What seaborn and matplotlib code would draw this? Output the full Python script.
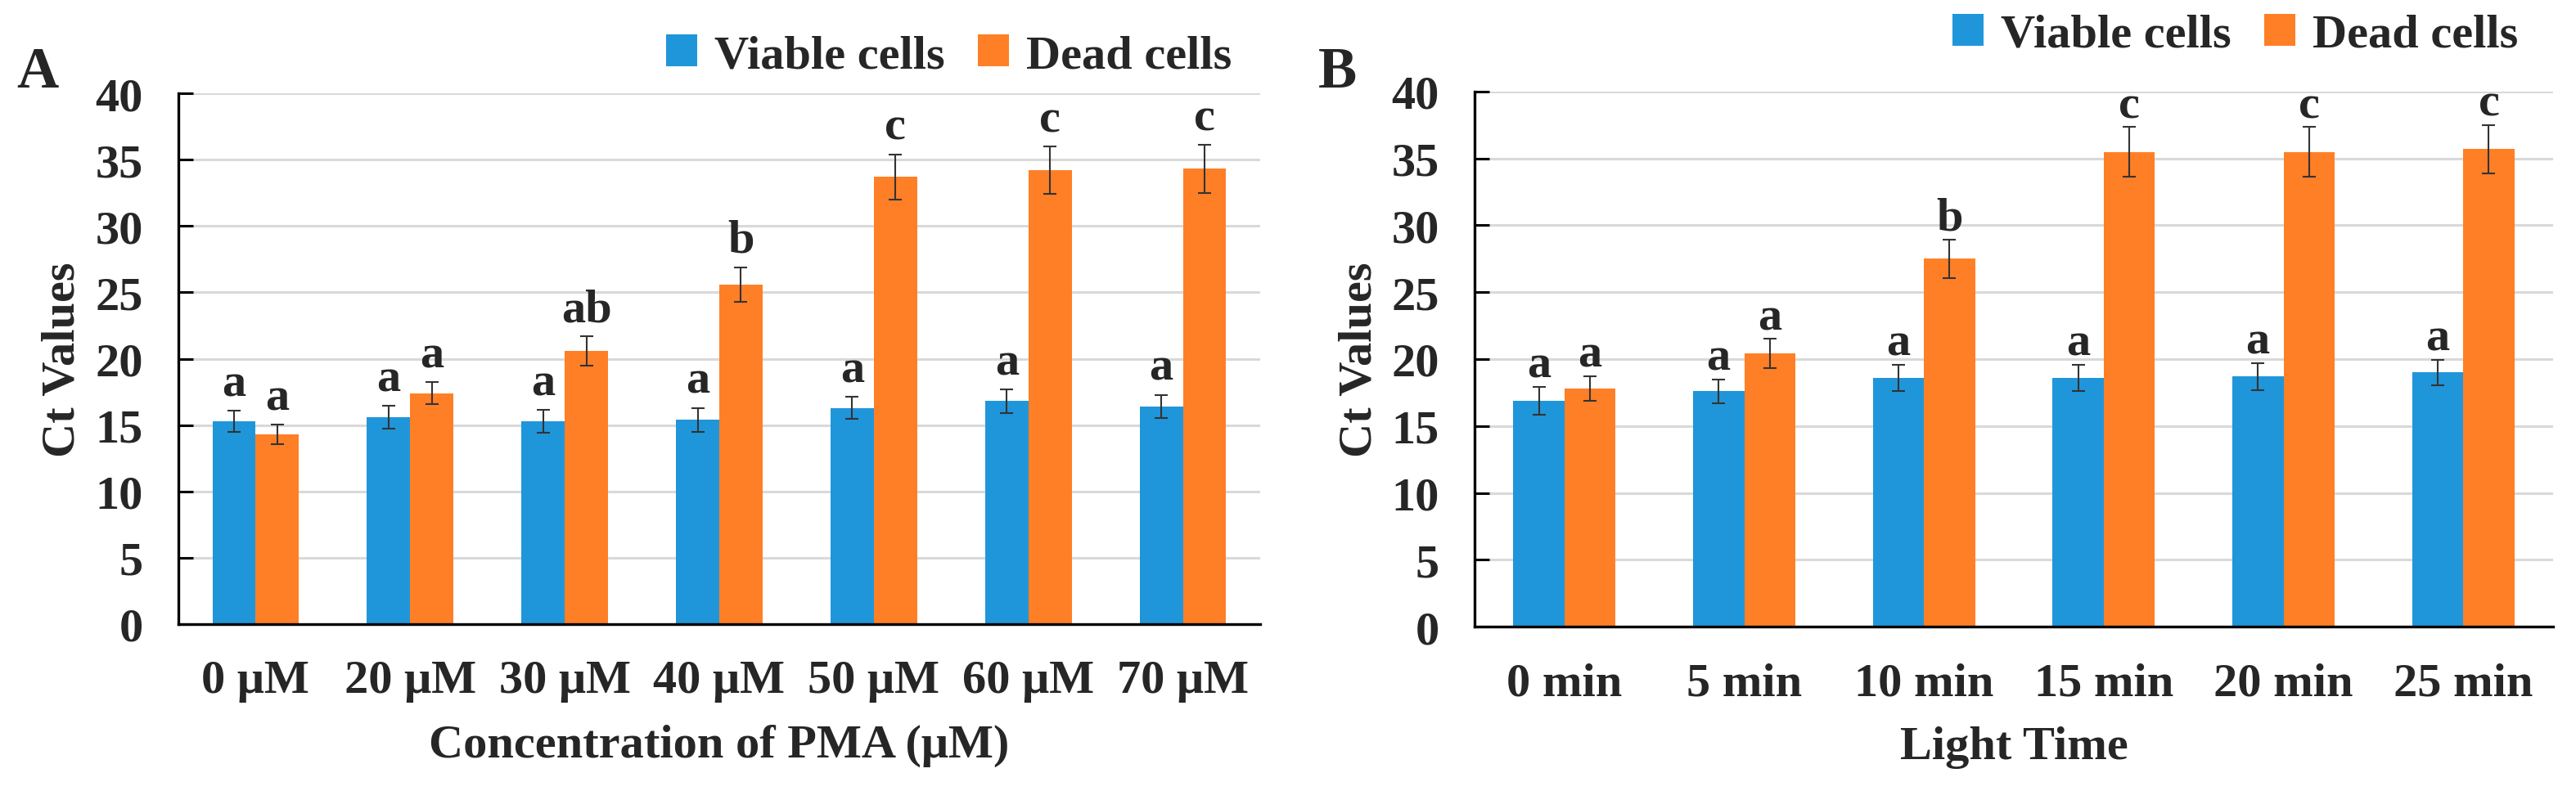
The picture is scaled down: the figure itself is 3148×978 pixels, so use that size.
import numpy as np
import pandas as pd
import matplotlib
matplotlib.use('Agg')
import matplotlib.pyplot as plt
from matplotlib.patches import Patch
from matplotlib.ticker import FixedLocator
import seaborn as sns

# Panel A - PMA concentration
pma_labels = ['0 μM', '20 μM', '30 μM', '40 μM', '50 μM', '60 μM', '70 μM']
pma_viable = [15.3, 15.6, 15.3, 15.4, 16.3, 16.8, 16.4]
pma_viable_err = [0.8, 0.85, 0.85, 0.9, 0.85, 0.9, 0.88]
pma_dead = [14.3, 17.4, 20.6, 25.6, 33.7, 34.2, 34.3]
pma_dead_err = [0.75, 0.85, 1.1, 1.3, 1.7, 1.8, 1.8]
pma_viable_sig = ['a', 'a', 'a', 'a', 'a', 'a', 'a']
pma_dead_sig = ['a', 'a', 'ab', 'b', 'c', 'c', 'c']

# Panel B - light time
time_labels = ['0 min', '5 min', '10 min', '15 min', '20 min', '25 min']
time_viable = [16.9, 17.6, 18.6, 18.6, 18.7, 19.0]
time_viable_err = [1.05, 0.9, 1.0, 1.0, 1.0, 0.95]
time_dead = [17.8, 20.4, 27.5, 35.5, 35.5, 35.7]
time_dead_err = [0.92, 1.1, 1.45, 1.85, 1.85, 1.8]
time_viable_sig = ['a', 'a', 'a', 'a', 'a', 'a']
time_dead_sig = ['a', 'a', 'b', 'c', 'c', 'c']

series_names = ['Viable cells', 'Dead cells']
blue = '#2096DA'
orange = '#FF7F27'

sns.set_style('white')
plt.rcParams['font.family'] = ['Liberation Serif', 'DejaVu Serif']
plt.rcParams['font.weight'] = 'bold'
FS = 42


def draw_panel(ax, labels, viable, viable_err, dead, dead_err, viable_sig, dead_sig,
               width, gap, xlabel):
    n = len(labels)
    df = pd.DataFrame({
        'cond': labels * 2,
        'ct': viable + dead,
        'cells': [series_names[0]] * n + [series_names[1]] * n,
    })
    sns.barplot(data=df, x='cond', y='ct', hue='cells', hue_order=series_names,
                palette=[blue, orange], width=width, errorbar=None, legend=False,
                saturation=1, linewidth=0, ax=ax, zorder=2)
    errs = [viable_err, dead_err]
    sigs = [viable_sig, dead_sig]
    for cont, err, sig in zip(ax.containers, errs, sigs):
        for bar, e, s in zip(cont.patches, err, sig):
            x = bar.get_x() + bar.get_width() / 2
            h = bar.get_height()
            ax.errorbar(x, h, yerr=e, color='#333333', elinewidth=1.5,
                        capsize=5.5, capthick=1.5, zorder=3)
            ax.text(x, h + e + gap, s, ha='center', va='baseline',
                    fontsize=FS, fontweight='bold', zorder=4)

    ax.set_ylim(0, 40)
    ax.set_xlim(-0.5, n - 0.5)
    ax.set_yticks(np.arange(0, 41, 5))
    ax.yaxis.grid(True, color='#d9d9d9', linewidth=2.2, zorder=0)
    ax.xaxis.grid(False)
    ax.set_axisbelow(True)
    ax.xaxis.set_minor_locator(FixedLocator(np.arange(0.5, n, 1.0)))
    ax.tick_params(axis='x', which='major', length=0, pad=31, labelsize=FS)
    ax.tick_params(axis='x', which='minor', direction='in', length=16, width=2.2,
                   color='black')
    ax.tick_params(axis='y', which='major', direction='in', length=13, width=2.2,
                   pad=31, labelsize=FS, left=True, color='black')
    for lab in ax.get_xticklabels() + ax.get_yticklabels():
        lab.set_fontweight('bold')
    for side in ['top', 'right']:
        ax.spines[side].set_visible(False)
    for side in ['left', 'bottom']:
        ax.spines[side].set_color('black')
        ax.spines[side].set_linewidth(2.4)
        ax.spines[side].set_zorder(5)
    ax.set_xlabel(xlabel, fontsize=FS, fontweight='bold', labelpad=19)
    ax.set_ylabel('Ct Values', fontsize=FS, fontweight='bold')
    ax.yaxis.set_label_coords(-0.087, 0.5)


W, H = 3148, 979
fig = plt.figure(figsize=(W / 100, H / 100), dpi=100)
axA = fig.add_axes([218 / W, 1 - 764 / H, (1540 - 218) / W, (764 - 115) / H])
axB = fig.add_axes([1802 / W, 1 - 767 / H, (3120 - 1802) / W, (767 - 113) / H])

draw_panel(axA, pma_labels, pma_viable, pma_viable_err, pma_dead, pma_dead_err,
           pma_viable_sig, pma_dead_sig, 0.56, 1.15, 'Concentration of PMA (μM)')
draw_panel(axB, time_labels, time_viable, time_viable_err, time_dead, time_dead_err,
           time_viable_sig, time_dead_sig, 0.57, 0.75, 'Light Time')

handles = [Patch(facecolor=blue, edgecolor='none'), Patch(facecolor=orange, edgecolor='none')]
for xr, yc in [(1505, 69), (3077, 44)]:
    fig.legend(handles, series_names, loc='center right',
               bbox_to_anchor=(xr / W, 1 - yc / H), ncol=2, frameon=False,
               prop={'size': FS, 'weight': 'bold'}, handlelength=0.65,
               handleheight=0.65, handletextpad=0.36, columnspacing=0.69,
               borderpad=0, borderaxespad=0)

fig.text(20 / W, 1 - 107 / H, 'A', fontsize=51, fontweight='bold', va='baseline', ha='left')
fig.text(1611 / W, 1 - 107 / H, 'B', fontsize=51, fontweight='bold', va='baseline', ha='left')

fig.savefig('out.png', dpi=100, facecolor='white')
